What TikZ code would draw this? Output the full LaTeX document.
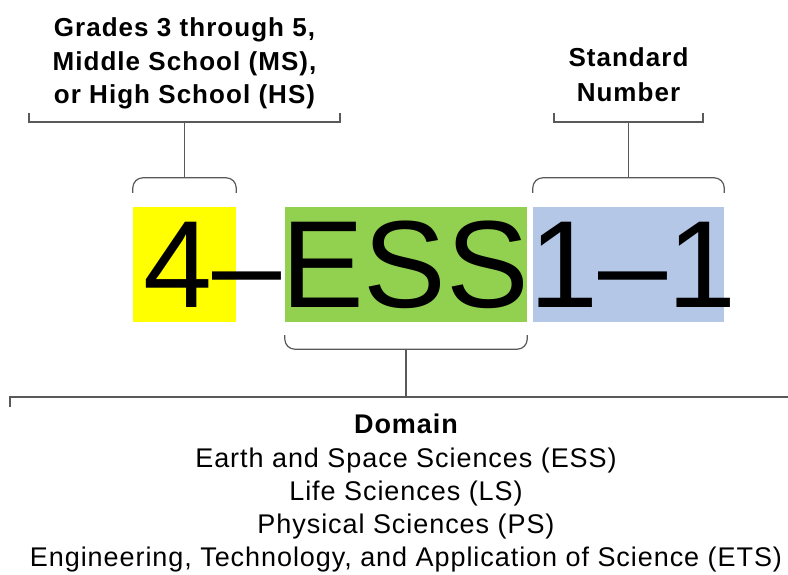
\documentclass[tikz,border=0pt]{standalone}
\usepackage{fontspec}
\setmainfont{Liberation Sans}
\newfontfamily\headfont[LetterSpace=4]{Liberation Sans}
\newfontfamily\listfont[LetterSpace=3.5]{Liberation Sans}
\definecolor{gradeyellow}{HTML}{FFFF00}
\definecolor{domaingreen}{HTML}{92D050}
\definecolor{numberblue}{HTML}{B4C7E7}
\definecolor{bracketgray}{HTML}{595959}
\begin{document}
\begin{tikzpicture}[x=1pt,y=-1pt,
  codebox/.style={draw=none, inner sep=0pt, minimum height=115pt},
  brace/.style={draw=bracketgray, line width=1.2pt, rounded corners=10pt},
  bar/.style={draw=bracketgray, line width=1.2pt},
  heading/.style={font=\headfont\bfseries\fontsize{26}{30}\selectfont, anchor=base, inner sep=0pt},
  listline/.style={font=\listfont\fontsize{27}{30}\selectfont, anchor=base, inner sep=0pt}]
  \useasboundingbox (0,0) rectangle (788,575);
  % coloured boxes behind the code
  \node[codebox, fill=gradeyellow, minimum width=103pt] (grade) at (184.5,264.5) {};
  \node[codebox, fill=domaingreen, minimum width=242pt] (domain) at (406,264.5) {};
  \node[codebox, fill=numberblue, minimum width=191pt] (number) at (628.5,264.5) {};
  % the code itself
  \node[anchor=base west, inner sep=0pt, font=\fontsize{124}{124}\selectfont] (code) at (143,307) {4–ESS1–1};
  % braces over and under the boxes
  \coordinate (gradebrace) at ([yshift=29pt]grade.north);
  \coordinate (numberbrace) at ([yshift=29pt]number.north);
  \coordinate (domainbrace) at ([yshift=-27pt]domain.south);
  \draw[brace] ([yshift=14pt]grade.north west) -- ([yshift=29pt]grade.north west)
    -- ([yshift=29pt]grade.north east) -- ([yshift=14pt]grade.north east);
  \draw[brace] ([yshift=14pt]number.north west) -- ([yshift=29pt]number.north west)
    -- ([yshift=29pt]number.north east) -- ([yshift=14pt]number.north east);
  \draw[brace] ([yshift=-13pt]domain.south west) -- ([yshift=-27pt]domain.south west)
    -- ([yshift=-27pt]domain.south east) -- ([yshift=-13pt]domain.south east);
  % square brackets under / over the labels
  \coordinate (gradebar) at (184.5,122);
  \coordinate (numberbar) at (628.5,122);
  \coordinate (domainbar) at (406,397);
  \draw[bar] (gradebar) ++(-155.5,-9) -- ++(0,9) -- ++(311,0) -- ++(0,-9);
  \draw[bar] (numberbar) ++(-74.5,-9) -- ++(0,9) -- ++(149,0) -- ++(0,-9);
  \draw[bar] (domainbar) ++(-396,10) -- ++(0,-10) -- ++(792,0) -- ++(0,10);
  \draw[bar] (gradebrace) -- (gradebar);
  \draw[bar] (numberbrace) -- (numberbar);
  \draw[bar] (domainbrace) -- (domainbar);
  % labels
  \node[heading] (g1) at (184.5,37) {Grades 3 through 5,};
  \node[heading] (g2) at (184.5,71) {Middle School (MS),};
  \node[heading] (g3) at (184.5,104) {or High School (HS)};
  \node[heading] (s1) at (628.5,67) {Standard};
  \node[heading] (s2) at (628.5,102) {Number};
  \node[listline, font=\listfont\bfseries\fontsize{27}{30}\selectfont] (d0) at (406,433) {Domain};
  \node[listline] (d1) at (406,467) {Earth and Space Sciences (ESS)};
  \node[listline] (d2) at (406,500) {Life Sciences (LS)};
  \node[listline] (d3) at (406,533) {Physical Sciences (PS)};
  \node[listline] (d4) at (406,566) {Engineering, Technology, and Application of Science (ETS)};
\end{tikzpicture}
\end{document}
